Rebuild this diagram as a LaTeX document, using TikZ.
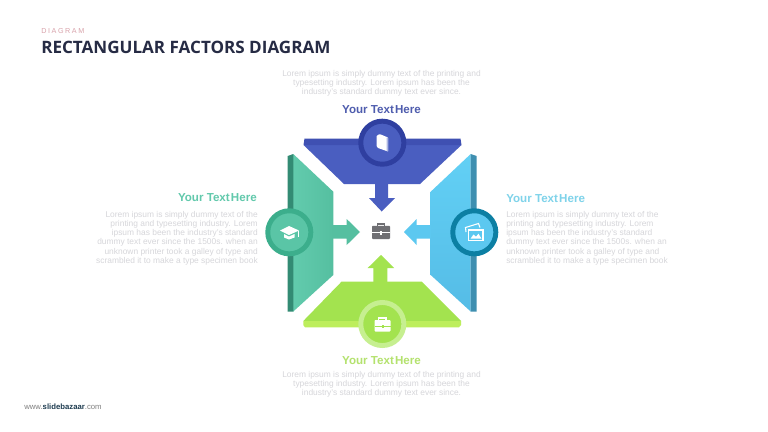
\documentclass[tikz,border=0pt]{standalone}
\usepackage{fontspec}
\setmainfont{Liberation Sans}
\newfontfamily\ttlfont{Open Sans}
\definecolor{ttl}{HTML}{262B44}
\definecolor{pinkc}{HTML}{D9A3AB}
\definecolor{lorem}{HTML}{D6D6DA}
\definecolor{hblue}{HTML}{4F5DAE}
\definecolor{hteal}{HTML}{62C9AC}
\definecolor{hsky}{HTML}{7FD3EA}
\definecolor{hlime}{HTML}{B4E26E}
\definecolor{bluea}{HTML}{4A5EC0}
\definecolor{blueb}{HTML}{3F50B2}
\definecolor{bluec}{HTML}{2F3FA0}
\definecolor{teala}{HTML}{5AC5A6}
\definecolor{tealleft}{HTML}{62CBAD}
\definecolor{tealright}{HTML}{55BFA0}
\definecolor{tealb}{HTML}{338B74}
\definecolor{tealc}{HTML}{3CAE8C}
\definecolor{skya}{HTML}{5CC8F0}
\definecolor{skytop}{HTML}{62D0F5}
\definecolor{skybot}{HTML}{55BCE6}
\definecolor{skyb}{HTML}{3F8FB0}
\definecolor{skyc}{HTML}{0C7FA3}
\definecolor{limea}{HTML}{A3E34F}
\definecolor{limeb}{HTML}{BDEE5C}
\definecolor{limec}{HTML}{C6EF90}
\definecolor{icong}{HTML}{6F6F73}
\tikzset{
  bodytext/.style={font=\fontsize{6.3pt}{7pt}\selectfont, text=lorem, inner sep=0pt},
  headtext/.style={font=\fontsize{8.7pt}{10pt}\selectfont\bfseries, inner sep=0pt},
  dot/.style={circle, inner sep=0pt, minimum size=32.3pt, line width=3.7pt},
}
\newcommand{\headline}[1]{Your Text\hspace{0.1em}Here}
\begin{document}
\begin{tikzpicture}[x=0.75pt,y=-0.75pt]
\useasboundingbox (0,0) rectangle (768,432);
\fill[white] (0,0) rectangle (768,432);

% title
\node[anchor=base west, inner sep=0pt, text=pinkc, font=\fontsize{5.4pt}{6pt}\addfontfeature{LetterSpace=22}] (kicker) at (41,33) {DIAGRAM};
\node[anchor=base west, inner sep=0pt, text=ttl, font=\ttlfont\bfseries\fontsize{12.8pt}{14pt}\selectfont] (title) at (41,53) {RECTANGULAR FACTORS DIAGRAM};

% top text
\foreach \n/\yy/\t in {t1/76/Lorem ipsum is simply dummy text of the printing and, t2/85.3/typesetting industry. Lorem ipsum has been the, t3/94.3/industry's standard dummy text ever since.}
  \node[bodytext, anchor=base] (\n) at (381.5,\yy) {\t};
\node[headtext, anchor=base, text=hblue] (headtop) at (381.5,113) {\headline{}};

% bottom text
\node[headtext, anchor=base, text=hlime] (headbot) at (381.5,364) {\headline{}};
\foreach \n/\yy/\t in {b1/377/Lorem ipsum is simply dummy text of the printing and, b2/386/typesetting industry. Lorem ipsum has been the, b3/395/industry's standard dummy text ever since.}
  \node[bodytext, anchor=base] (\n) at (381.5,\yy) {\t};

% left text
\node[headtext, anchor=base east, text=hteal] (headleft) at (257,201) {\headline{}};
\foreach \n/\yy/\t in {l1/217/Lorem ipsum is simply dummy text of the, l2/226.4/printing and typesetting industry. Lorem, l3/235.6/ipsum has been the industry's standard, l4/244.9/dummy text ever since the 1500s. when an, l5/254.2/unknown printer took a galley of type and, l6/263.5/scrambled it to make a type specimen book}
  \node[bodytext, anchor=base east] (\n) at (258,\yy) {\t};

% right text
\node[headtext, anchor=base west, text=hsky] (headright) at (506,202) {\headline{}};
\foreach \n/\yy/\t in {r1/217/Lorem ipsum is simply dummy text of the, r2/226.4/printing and typesetting industry. Lorem, r3/235.6/ipsum has been the industry's standard, r4/244.9/dummy text ever since the 1500s. when an, r5/254.2/unknown printer took a galley of type and, r6/263.5/scrambled it to make a type specimen book}
  \node[bodytext, anchor=base west] (\n) at (506,\yy) {\t};

% footer
\node[anchor=base west, inner sep=0pt, font=\fontsize{5.8pt}{6pt}\selectfont, text=gray] (foot) at (24,409) {www.\textcolor{ttl!80!teal}{\textbf{slidebazaar}}.com};

% blue (top) panel
\fill[bluea] (303.5,145) -- (461.5,145) -- (420,184) -- (344,184) -- cycle;
\fill[blueb] (303.5,145) -- (304.5,138.5) -- (460.5,138.5) -- (461.5,145) -- cycle;
\fill[bluea] (375,184) -- (388,184) -- (388,198) -- (395,198) -- (381.7,211.5) -- (369,198) -- (375,198) -- cycle;

% teal (left) panel
\shade[left color=tealleft, right color=tealright] (293.3,154) -- (333.3,191.7) -- (333.3,275) -- (293.3,311.5) -- cycle;
\fill[tealb] (287.7,156) -- (293.3,154) -- (293.3,311.5) -- (287.7,311.5) -- cycle;
\fill[tealright] (333,225) -- (346.7,225) -- (346.7,219) -- (360,232) -- (346.7,245) -- (346.7,238.5) -- (333,238.5) -- cycle;

% sky (right) panel
\shade[top color=skytop, bottom color=skybot] (430.7,191.7) -- (470.7,154) -- (470.7,311.5) -- (430.7,275) -- cycle;
\fill[skyb] (470.7,154) -- (476.7,156) -- (476.7,311.5) -- (470.7,311.5) -- cycle;
\fill[skya] (431,225) -- (416.7,225) -- (416.7,219) -- (404,232) -- (416.7,245) -- (416.7,238.5) -- (431,238.5) -- cycle;

% lime (bottom) panel
\fill[limea] (341.7,281.5) -- (421.7,281.5) -- (461,321) -- (303.3,321) -- cycle;
\fill[limeb] (303.3,321) -- (461,321) -- (461,325) -- (459,327.3) -- (305,327.3) -- (303.3,325) -- cycle;
\fill[limea] (373.3,282) -- (387.3,282) -- (387.3,268) -- (394,268) -- (381,255) -- (367.7,268) -- (373.3,268) -- cycle;

% discs
\node[dot, draw=bluec, fill=bluea] (ctop) at (382.3,142.7) {};
\node[dot, draw=tealc, fill=teala] (cleft) at (289.3,232.3) {};
\node[dot, draw=skyc, fill=skya] (cright) at (474.3,232.3) {};
\node[dot, draw=limec, fill=limea] (cbot) at (382.3,324) {};

% book icon
\fill[white, rounded corners=.5pt] (376.5,136) -- (379.5,134) -- (388,137.5) -- (388,151.5) -- (378,148) -- (376.5,146) -- cycle;
\fill[bluea!45!white] (386.6,137.5) -- (388,137.5) -- (388,151.5) -- (386.6,151) -- cycle;
% graduation cap icon
\fill[white] (289,226) -- (299,230.5) -- (289,235) -- (280,230.5) -- cycle;
\fill[white] (284,234) -- (289,236.5) -- (294.5,234) -- (294.5,237.5) -- (289,239.5) -- (284,237.5) -- cycle;
\fill[white] (298,231) rectangle (299,236.5);
% picture icon
\draw[white, line width=.8pt] (466,232) -- (465.5,227.5) -- (478.5,223.5) -- (480,227.5);
\draw[white, line width=.9pt, fill=skya] (468.5,230) rectangle (483,240.5);
\fill[white] (470.5,238.7) -- (473.5,234.5) -- (476,236.7) -- (478.5,233.7) -- (481.5,238.7) -- cycle;
% lime briefcase icon
\draw[white, line width=.8pt] (378.5,320) -- (378.5,318) -- (386,318) -- (386,320);
\fill[white, rounded corners=.6pt] (374.5,320) rectangle (390.5,331.5);
\fill[limea] (374.5,325.6) rectangle (390.5,326.3);
\fill[limea] (381.5,324.8) rectangle (383.5,327.5);

% centre briefcase
\draw[icong, line width=1.1pt] (377.5,226) -- (377.5,223.8) -- (384.5,223.8) -- (384.5,226);
\fill[icong, rounded corners=.6pt] (372,225.8) rectangle (390,239);
\fill[white] (372,232) rectangle (390,232.8);
\fill[white] (380,231) rectangle (382,234.5);
\end{tikzpicture}
\end{document}
